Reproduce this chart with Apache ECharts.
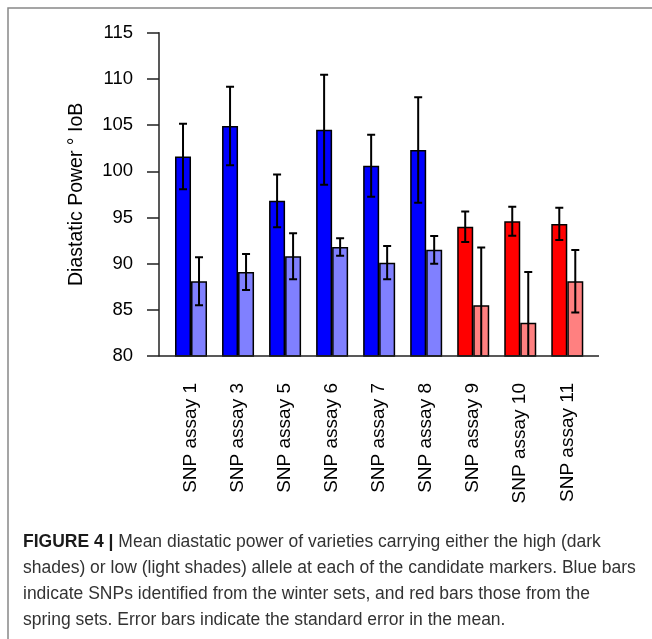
<!DOCTYPE html>
<html>
<head>
<meta charset="utf-8">
<script src="https://cdn.jsdelivr.net/npm/echarts@6/dist/echarts.min.js"></script>
<style>
html,body{margin:0;padding:0;background:#fff;}
#chart{width:652px;height:639px;}
</style>
</head>
<body>
<div id="chart"></div>
<script>
// ---- data ----
var categories = ['SNP assay 1','SNP assay 3','SNP assay 5','SNP assay 6','SNP assay 7','SNP assay 8','SNP assay 9','SNP assay 10','SNP assay 11'];
var sets      = ['winter','winter','winter','winter','winter','winter','spring','spring','spring'];
var highMean  = [101.6, 104.9, 96.8, 104.5, 100.6, 102.3, 94.0, 94.6, 94.3];
var highSE    = [3.55, 4.25, 2.85, 5.95, 3.35, 5.7, 1.65, 1.57, 1.75];
var lowMean   = [88.1, 89.1, 90.8, 91.8, 90.1, 91.5, 85.5, 83.6, 88.1];
var lowSE     = [2.6, 1.95, 2.5, 0.95, 1.8, 1.5, 6.25, 5.5, 3.38];
var yMin = 80, yMax = 115, yStep = 5;
var yName = 'Diastatic Power \u00B0 IoB';
var captionBold = 'FIGURE 4 | ';
var captionLines = [
  'Mean diastatic power of varieties carrying either the high (dark',
  'shades) or low (light shades) allele at each of the candidate markers. Blue bars',
  'indicate SNPs identified from the winter sets, and red bars those from the',
  'spring sets. Error bars indicate the standard error in the mean.'
];

var colors = {
  winter: {high:'#0000ff', low:'#8080ff'},
  spring: {high:'#ff0000', low:'#ff8080'}
};
var FONT = 'Liberation Sans, Arial, Helvetica, sans-serif';
var barW = 16;

function barData(means, key){
  return means.map(function(v,i){
    return {value:v, itemStyle:{color: colors[sets[i]][key]}};
  });
}
function errData(means, se){
  return means.map(function(v,i){ return [i, v - se[i], v + se[i]]; });
}
function errRender(offset){
  return function(params, api){
    var i = api.value(0), lo = api.value(1), hi = api.value(2);
    var t = api.coord([i, hi]), b = api.coord([i, lo]);
    var x = t[0] + offset, cap = 4;
    var st = {stroke:'#000', lineWidth:2};
    return {type:'group', children:[
      {type:'line', shape:{x1:x, y1:t[1], x2:x, y2:b[1]}, style:st},
      {type:'line', shape:{x1:x-cap, y1:t[1], x2:x+cap, y2:t[1]}, style:st},
      {type:'line', shape:{x1:x-cap, y1:b[1], x2:x+cap, y2:b[1]}, style:st}
    ]};
  };
}

var chart = echarts.init(document.getElementById('chart'), null, {renderer:'canvas'});
var option = {
  animation:false,
  backgroundColor:'#fff',
  grid:{left:167.5, right:61.2, top:32.7, bottom:283, containLabel:false},
  xAxis:{
    type:'category', data:categories,
    axisLine:{show:false}, axisTick:{show:false},
    axisLabel:{rotate:90, margin:27, color:'#000', fontSize:19, fontFamily:FONT, interval:0}
  },
  yAxis:{
    type:'value', min:yMin, max:yMax, interval:yStep, offset:8.5,
    name:yName, nameLocation:'middle', nameGap:72, nameRotate:90,
    nameTextStyle:{color:'#000', fontSize:19.5, fontFamily:FONT},
    axisLine:{show:true, lineStyle:{color:'#222', width:1.5}},
    axisTick:{show:true, inside:false, length:12, lineStyle:{color:'#222', width:1.5}},
    axisLabel:{color:'#000', fontSize:18.5, fontFamily:FONT, margin:26},
    splitLine:{show:false}
  },
  series:[
    {type:'bar', name:'high', data:barData(highMean,'high'), barWidth:barW, barGap:'0%',
     itemStyle:{borderColor:'#000', borderWidth:1.5}, z:2},
    {type:'bar', name:'low', data:barData(lowMean,'low'), barWidth:barW, barGap:'0%',
     itemStyle:{borderColor:'#000', borderWidth:1.5}, z:2},
    {type:'custom', name:'highErr', data:errData(highMean, highSE), renderItem:errRender(-barW/2), clip:true, z:5},
    {type:'custom', name:'lowErr', data:errData(lowMean, lowSE), renderItem:errRender(barW/2), clip:true, z:5}
  ]
};
chart.setOption(option);

// decorations: baseline, frame, caption
var y80 = chart.convertToPixel({yAxisIndex:0}, yMin);
var capRich = {
  b:{fontWeight:'bold', fontSize:17.5, fontFamily:FONT, fill:'#1a1a1a', lineHeight:26},
  n:{fontSize:17.5, fontFamily:FONT, fill:'#333', lineHeight:26}
};
var capText = '{b|' + captionBold + '}{n|' + captionLines[0] + '}\n' +
  captionLines.slice(1).map(function(l){ return '{n|' + l + '}'; }).join('\n');
chart.setOption({
  graphic:[
    {type:'rect', shape:{x:8, y:8, width:700, height:700}, style:{fill:'none', stroke:'#888', lineWidth:1.5}, silent:true},
    {type:'line', shape:{x1:159, y1:y80, x2:599, y2:y80}, style:{stroke:'#222', lineWidth:1.5}, z:10},
    {type:'text', left:23, top:529, style:{text:capText, rich:capRich, fontSize:17.5, fontFamily:FONT, fill:'#333', lineHeight:26}}
  ]
});
</script>
</body>
</html>
